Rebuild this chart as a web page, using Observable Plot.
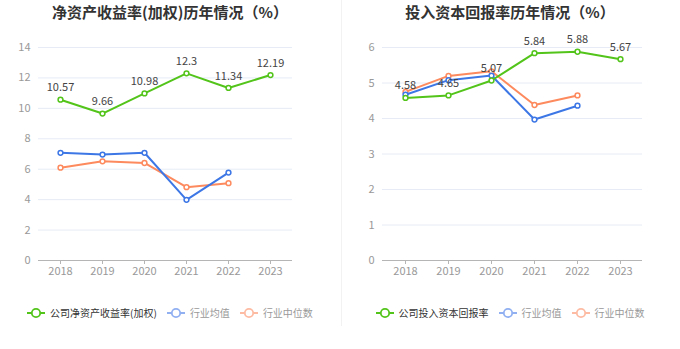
<!DOCTYPE html>
<html>
<head>
<meta charset="utf-8">
<script src="https://cdn.jsdelivr.net/npm/d3@7"></script>
<script src="https://cdn.jsdelivr.net/npm/@observablehq/plot@0.6"></script>
<style>
  body { margin: 0; background: #fff; font-family: "Noto Sans CJK SC", "Noto Sans", sans-serif; }
  #wrap { position: relative; width: 680px; height: 349px; overflow: hidden; }
  .panel { position: absolute; top: 0; width: 340px; height: 349px; }
  .title { position: absolute; top: 1px; left: 0; width: 100%; text-align: center; font-size: 15px; font-weight: bold; color: #333; line-height: 22px; }
  .chart { position: absolute; top: 24px; left: 0; }
  .legend { position: absolute; top: 304px; left: 0; width: 100%; display: flex; justify-content: center; align-items: center; font-size: 10px; line-height: 18px; }
  .legend .item { display: flex; align-items: center; margin: 0 5px; }
  .legend svg { margin-right: 5px; }
  #sep { position: absolute; left: 341px; top: 0; width: 1px; height: 326px; background: #f2f2f2; }
</style>
</head>
<body>
<div id="wrap">
  <div class="panel" id="p1" style="left:0"></div>
  <div id="sep"></div>
  <div class="panel" id="p2" style="left:340px"></div>
</div>
<script>
const years = ["2018", "2019", "2020", "2021", "2022", "2023"];

// Left chart: 净资产收益率(加权)
const roe = [10.57, 9.66, 10.98, 12.3, 11.34, 12.19];
const roeMean = [7.08, 6.96, 7.08, 3.99, 5.78];
const roeMedian = [6.10, 6.52, 6.41, 4.82, 5.08];
const roeTicks = [0, 2, 4, 6, 8, 10, 12, 14];

// Right chart: 投入资本回报率
const roic = [4.58, 4.65, 5.07, 5.84, 5.88, 5.67];
const roicMean = [4.67, 5.08, 5.21, 3.97, 4.36];
const roicMedian = [4.75, 5.20, 5.33, 4.38, 4.65];
const roicTicks = [0, 1, 2, 3, 4, 5, 6];

const GREEN = "#52c41a", BLUE = "#3d77e6", ORANGE = "#fd8a5e";
const GREEN_L = "#52c41a", BLUE_L = "#91b0f2", ORANGE_L = "#fdbba3";

function rows(vals) { return vals.map((v, i) => ({year: years[i], v})); }

function lineSet(data, color) {
  return [
    Plot.line(data, {x: "year", y: "v", stroke: color, strokeWidth: 2}),
    Plot.dot(data, {x: "year", y: "v", r: 2.4, stroke: color, strokeWidth: 1.5, fill: "#fff"})
  ];
}

function makeChart({main, mean, median, ticks, domainMax, ml, mr}) {
  const m = rows(main), a = rows(mean), d = rows(median);
  return Plot.plot({
    width: 340,
    height: 260,
    marginTop: 23,
    marginBottom: 24,
    marginLeft: ml,
    marginRight: mr,
    style: {fontFamily: '"Noto Sans CJK SC", "Noto Sans", sans-serif', fontSize: "11px", background: "transparent"},
    x: {type: "point", domain: years, padding: 0.5, label: null},
    y: {domain: [0, domainMax], label: null},
    marks: [
      Plot.gridY(ticks, {stroke: "#e6ebf5", strokeOpacity: 1, strokeWidth: 1}),
      Plot.axisY(ticks, {tickSize: 0, tickPadding: 8, fill: "#999", fontSize: 11, label: null}),
      Plot.ruleY([0], {stroke: "#b5b5b5", strokeWidth: 1}),
      Plot.axisX(years, {tickSize: 4, stroke: "#b5b5b5", tickPadding: 3, fill: "#999", fontSize: 11, label: null}),
      ...lineSet(d, ORANGE),
      ...lineSet(a, BLUE),
      ...lineSet(m, GREEN),
      Plot.text(m, {x: "year", y: "v", text: r => String(r.v), dy: -12, fill: "#444", fontSize: 11})
    ]
  });
}

function legendIcon(color) {
  return `<svg width="18" height="12"><line x1="0" y1="6" x2="18" y2="6" stroke="${color}" stroke-width="2"/><circle cx="9" cy="6" r="4.2" fill="#fff" stroke="${color}" stroke-width="1.8"/></svg>`;
}

function buildPanel(id, title, chartOpts, mainName) {
  const p = document.getElementById(id);
  const t = document.createElement("div");
  t.className = "title"; t.textContent = title; p.appendChild(t);
  const c = document.createElement("div");
  c.className = "chart"; c.appendChild(makeChart(chartOpts)); p.appendChild(c);
  const lg = document.createElement("div");
  lg.className = "legend";
  lg.innerHTML =
    `<div class="item">${legendIcon(GREEN_L)}<span style="color:#333">${mainName}</span></div>` +
    `<div class="item">${legendIcon(BLUE_L)}<span style="color:#999">行业均值</span></div>` +
    `<div class="item">${legendIcon(ORANGE_L)}<span style="color:#999">行业中位数</span></div>`;
  p.appendChild(lg);
}

buildPanel("p1", "净资产收益率(加权)历年情况（%）",
  {main: roe, mean: roeMean, median: roeMedian, ticks: roeTicks, domainMax: 14, ml: 38, mr: 48},
  "公司净资产收益率(加权)");
buildPanel("p2", "投入资本回报率历年情况（%）",
  {main: roic, mean: roicMean, median: roicMedian, ticks: roicTicks, domainMax: 6, ml: 42, mr: 38},
  "公司投入资本回报率");
</script>
</body>
</html>
